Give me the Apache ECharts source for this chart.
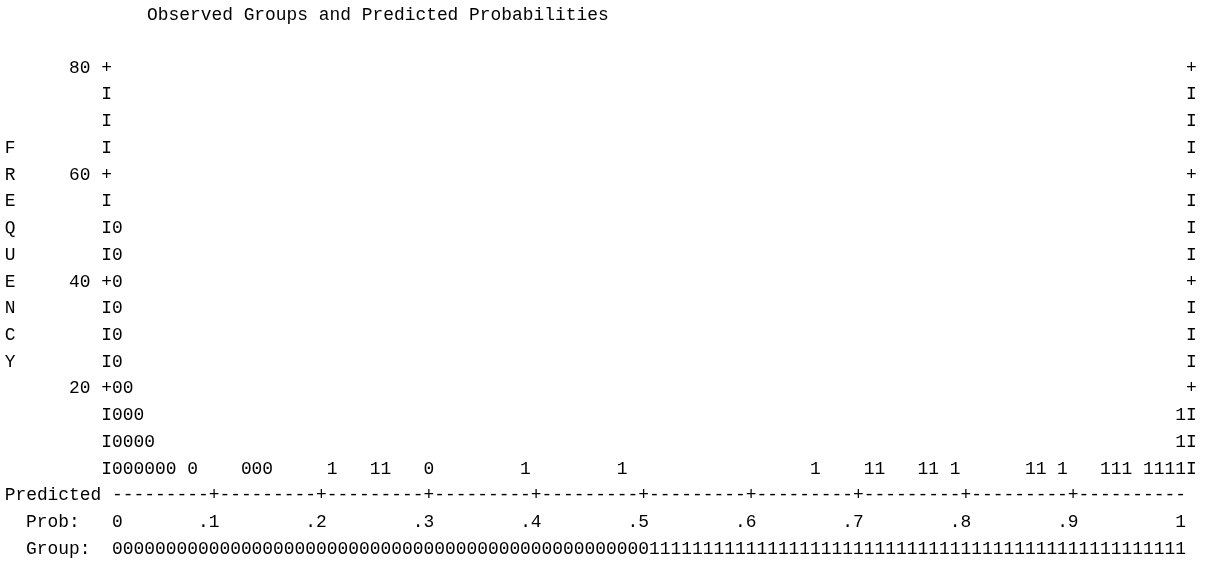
<!DOCTYPE html>
<html>
<head>
<meta charset="utf-8">
<script src="https://cdn.jsdelivr.net/npm/echarts@6/dist/echarts.min.js"></script>
<style>
  html, body { margin: 0; padding: 0; background: #ffffff; }
  #chart { width: 1208px; height: 563px; }
</style>
</head>
<body>
<div id="chart"></div>
<script>
// Classification plot: each symbol stands for 5 cases, stacked per probability bin (width .01).
const casesPerSymbol = 5;

// Observed group 0: bin index (0..99) and number of cases
const group0Bins  = [0, 1, 2, 3, 4, 5, 7, 12, 13, 14, 29];
const group0Cases = [50, 20, 15, 10, 5, 5, 5, 5, 5, 5, 5];

// Observed group 1: bin index (0..99) and number of cases
const group1Bins  = [20, 24, 25, 38, 47, 65, 70, 71, 75, 76, 78, 85, 86, 88, 92, 93, 94, 96, 97, 98, 99];
const group1Cases = [5, 5, 5, 5, 5, 5, 5, 5, 5, 5, 5, 5, 5, 5, 5, 5, 5, 5, 5, 5, 15];

// Frequency scale
const freqMax = 80;
const freqLabelled = [20, 40, 60, 80];

// Probability tick labels and the bins they sit on
const probLabels   = ['0', '.1', '.2', '.3', '.4', '.5', '.6', '.7', '.8', '.9', '1'];
const probLabelBin = [0, 9, 19, 29, 39, 49, 59, 69, 79, 89, 99];

// Cut value separating predicted groups
const cutValue = 0.5;

const binCount = 100;
const bins = Array.from({ length: binCount }, (_, i) => (i / binCount).toFixed(2));

const MONO = '"Liberation Mono", "DejaVu Sans Mono", monospace';
const FS = 17.9;
const ROW = 26.73;
const CHAR = 10.74;
const INK = '#000000';

const GRID_LEFT = 112;
const GRID_TOP = 68;
const GRID_BOTTOM_Y = GRID_TOP + 16 * ROW;

function stackPoints(binsArr, casesArr) {
  const pts = [];
  binsArr.forEach((b, i) => {
    const n = Math.round(casesArr[i] / casesPerSymbol);
    for (let s = 1; s <= n; s++) pts.push([b, s * casesPerSymbol]);
  });
  return pts;
}

function symbolSeries(name, symbolChar, binsArr, casesArr) {
  return {
    name: name,
    type: 'scatter',
    xAxisIndex: 0,
    yAxisIndex: 0,
    data: stackPoints(binsArr, casesArr),
    symbolSize: 1,
    itemStyle: { color: 'rgba(0,0,0,0)', opacity: 1 },
    silent: true,
    clip: false,
    label: {
      show: true,
      position: 'inside',
      formatter: symbolChar,
      fontFamily: MONO,
      fontSize: FS,
      color: INK,
      opacity: 1
    }
  };
}

const baseLabel = {
  fontFamily: MONO,
  fontSize: FS,
  color: INK
};

function rowAxis(offset, name, nameGap, formatter) {
  return {
    type: 'category',
    data: bins,
    position: 'bottom',
    offset: offset,
    boundaryGap: true,
    name: name,
    nameLocation: 'start',
    nameGap: nameGap,
    nameMoveOverlap: false,
    nameTextStyle: Object.assign({}, baseLabel, { align: 'right', verticalAlign: 'middle' }),
    axisLine: { show: false },
    axisTick: { show: false },
    splitLine: { show: false },
    axisLabel: Object.assign({}, baseLabel, {
      interval: 0,
      margin: 0,
      verticalAlign: 'middle',
      formatter: formatter
    })
  };
}

const chart = echarts.init(document.getElementById('chart'), null, { renderer: 'canvas' });

chart.setOption({
  animation: false,
  backgroundColor: '#ffffff',
  title: {
    text: 'Observed Groups and Predicted Probabilities',
    left: 142,
    top: -1,
    textStyle: Object.assign({}, baseLabel, { fontWeight: 'normal', lineHeight: 22 })
  },
  grid: {
    left: GRID_LEFT,
    right: 22,
    top: GRID_TOP,
    bottom: 563 - GRID_BOTTOM_Y,
    containLabel: false
  },
  // caption of the probability row
  graphic: [
    {
      type: 'text',
      silent: true,
      style: {
        text: 'Prob:',
        x: GRID_LEFT - 3 * CHAR,
        y: GRID_BOTTOM_Y + ROW,
        align: 'right',
        verticalAlign: 'middle',
        font: FS + 'px ' + MONO,
        fill: INK
      }
    }
  ],
  xAxis: [
    // dash line with '+' every tenth bin
    rowAxis(0, 'Predicted', 10.7,
      (v, i) => (i % 10 === 9 && i < binCount - 1 ? '+' : '-')),
    // probability tick labels
    rowAxis(ROW, '', 0, (v, i) => {
      const k = probLabelBin.indexOf(i);
      if (k < 0) return '';
      const t = probLabels[k];
      return t.length > 1 ? t + ' ' : t;
    }),
    // predicted group membership per bin
    rowAxis(2 * ROW, 'Group:', 21.5,
      (v, i) => (i / binCount < cutValue ? '0' : '1'))
  ],
  yAxis: [
    {
      type: 'value',
      position: 'left',
      min: 0,
      max: freqMax,
      interval: casesPerSymbol,
      name: 'F\nR\nE\nQ\nU\nE\nN\nC\nY\n \n ',
      nameLocation: 'middle',
      nameRotate: 0,
      nameGap: 102,
      nameMoveOverlap: false,
      nameTextStyle: Object.assign({}, baseLabel, {
        align: 'center',
        verticalAlign: 'middle',
        lineHeight: ROW
      }),
      axisLine: { show: false },
      axisTick: { show: false },
      splitLine: { show: false },
      axisLabel: Object.assign({}, baseLabel, {
        margin: 0,
        align: 'right',
        formatter: v => {
          if (v === 0) return '';
          return freqLabelled.indexOf(v) >= 0 ? v + ' +' : 'I';
        }
      })
    },
    {
      type: 'value',
      position: 'right',
      min: 0,
      max: freqMax,
      interval: casesPerSymbol,
      axisLine: { show: false },
      axisTick: { show: false },
      splitLine: { show: false },
      axisLabel: Object.assign({}, baseLabel, {
        margin: 0,
        align: 'left',
        formatter: v => {
          if (v === 0) return '';
          return freqLabelled.indexOf(v) >= 0 ? '+' : 'I';
        }
      })
    }
  ],
  series: [
    symbolSeries('0', '0', group0Bins, group0Cases),
    symbolSeries('1', '1', group1Bins, group1Cases)
  ]
});
</script>
</body>
</html>
